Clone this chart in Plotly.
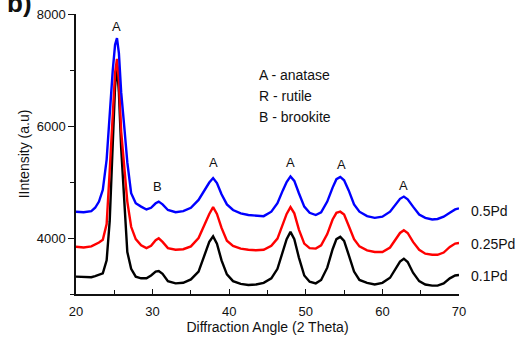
import plotly.graph_objects as go

two_theta = [20, 21, 22, 22.5, 23, 23.5, 24, 24.4, 24.8, 25.1, 25.35, 25.6, 25.9, 26.3, 26.7,
             27.2, 27.8, 28.5, 29.2, 29.8, 30.4, 30.8, 31.3, 32, 33, 34, 35, 36, 36.8, 37.4,
             37.9, 38.4, 39, 39.7, 40.5, 41.5, 42.5, 43.5, 44.5, 45.5, 46.3, 47, 47.5, 48,
             48.5, 49.1, 49.8, 50.5, 51.3, 52, 52.8, 53.5, 54, 54.5, 55, 55.6, 56.3, 57, 58,
             59, 60, 61, 61.8, 62.3, 62.8, 63.3, 64, 64.8, 65.6, 66.5, 67.2, 68, 68.8, 69.5, 70]

pd_05 = [4470, 4460, 4480, 4540, 4650, 4860, 5400, 6300, 7000, 7450, 7570, 7300, 6600, 5990, 5350,
         4800, 4620, 4560, 4510, 4540, 4620, 4650, 4600, 4500, 4460, 4480, 4540, 4680, 4870, 4990,
         5070, 4980, 4780, 4600, 4500, 4440, 4410, 4400, 4390, 4470, 4620, 4850, 5000, 5100,
         5020, 4800, 4560, 4450, 4410, 4460, 4650, 4900, 5050, 5090, 5030, 4850, 4600, 4470, 4390,
         4360, 4380, 4470, 4610, 4700, 4740, 4690, 4560, 4420, 4360, 4330, 4340, 4380, 4450, 4510, 4530]

pd_025 = [3845, 3830, 3850, 3880, 3920, 3970, 4250, 5200, 6300, 6950, 7200, 6800, 5900, 5270, 4650,
          4200, 3980, 3870, 3820, 3860, 3960, 3995, 3930, 3820, 3790, 3800, 3850, 4000, 4250, 4430,
          4550, 4430, 4180, 3950, 3860, 3810, 3790, 3780, 3790, 3860, 3990, 4250, 4430, 4550,
          4440, 4150, 3900, 3820, 3810, 3870, 4070, 4330, 4450, 4470, 4420, 4220, 3980, 3850, 3780,
          3750, 3750, 3830, 3990, 4090, 4140, 4090, 3930, 3790, 3720, 3700, 3700, 3740, 3840, 3900, 3910]

pd_01 = [3310, 3300, 3300, 3320, 3340, 3370, 3600, 4300, 5690, 6700, 7080, 6600, 5600, 4600, 3750,
         3450, 3310, 3280, 3280, 3330, 3400, 3410, 3360, 3230, 3190, 3200, 3260, 3400, 3700, 3930,
         4030, 3900, 3600, 3350, 3230, 3180, 3160, 3170, 3200, 3280, 3450, 3750, 3980, 4110,
         3980, 3650, 3330, 3220, 3190, 3250, 3470, 3800, 3980, 4020, 3950, 3700, 3400, 3250, 3200,
         3170, 3200, 3290, 3470, 3580, 3630, 3570, 3380, 3230, 3170, 3150, 3150, 3190, 3280, 3330, 3340]

series_names = ["0.1Pd", "0.25Pd", "0.5Pd"]
series_values = [pd_01, pd_025, pd_05]
series_colors = ["#000000", "#ff0000", "#0000ff"]
label_y = [3330, 3900, 4480]

peak_x = [25.3, 30.7, 37.9, 48.0, 54.6, 62.8]
peak_y = [7768, 4911, 5357, 5357, 5304, 4929]
peak_text = ["A", "B", "A", "A", "A", "A"]

phase_text = ["A - anatase", "R - rutile", "B - brookite"]

FONT = "Liberation Sans, Arial, sans-serif"

fig = go.Figure()
for name, vals, col in zip(series_names, series_values, series_colors):
    fig.add_trace(go.Scatter(x=two_theta, y=vals, mode="lines", name=name,
                             line=dict(color=col, width=2.4), showlegend=False))

annotations = []
for px_, py_, t in zip(peak_x, peak_y, peak_text):
    annotations.append(dict(x=px_, y=py_, xref="x", yref="y", text=t, showarrow=False,
                            font=dict(size=13, color="#111", family=FONT)))
for name, ly in zip(series_names, label_y):
    annotations.append(dict(x=1.025, y=ly, xref="paper", yref="y", text=name, showarrow=False,
                            xanchor="left", font=dict(size=14, color="#111", family=FONT)))
for i, t in enumerate(phase_text):
    annotations.append(dict(x=(257 - 76) / 383, y=(294 - 75 - i * 21) / 280, xref="paper", yref="paper",
                            text=t, showarrow=False, xanchor="left", yanchor="middle",
                            font=dict(size=14, color="#111", family=FONT)))
annotations.append(dict(x=(19 - 76) / 383, y=1 + 11 / 280, xref="paper", yref="paper", text="<b>b)</b>",
                        showarrow=False, xanchor="center", yanchor="middle",
                        font=dict(size=26, color="#111", family=FONT)))

fig.update_layout(
    width=529, height=340,
    margin=dict(l=76, r=70, t=14, b=46, autoexpand=False),
    paper_bgcolor="white", plot_bgcolor="white",
    font=dict(family=FONT, color="#111"),
    annotations=annotations,
    xaxis=dict(range=[20, 70], dtick=10, tick0=0, showgrid=False, zeroline=False,
               showline=True, linecolor="#111", linewidth=1.5,
               ticks="inside", ticklen=5, tickwidth=1.2, tickcolor="#111",
               minor=dict(dtick=5, ticks="inside", ticklen=4, tickcolor="#111", showgrid=False),
               tickfont=dict(size=13, family=FONT), ticklabelstandoff=5,
               title=dict(text="Diffraction Angle (2 Theta)", font=dict(size=14, family=FONT), standoff=4)),
    yaxis=dict(range=[3000, 8000], dtick=2000, tick0=0, showgrid=False, zeroline=False,
               showline=True, linecolor="#111", linewidth=1.5,
               ticks="outside", ticklen=6, tickwidth=1.2, tickcolor="#111",
               minor=dict(dtick=1000, ticks="outside", ticklen=4, tickcolor="#111", showgrid=False),
               tickfont=dict(size=13, family=FONT),
               title=dict(text="IIntensity (a.u)", font=dict(size=14, family=FONT), standoff=4)),
)

fig.write_html("out.html")
